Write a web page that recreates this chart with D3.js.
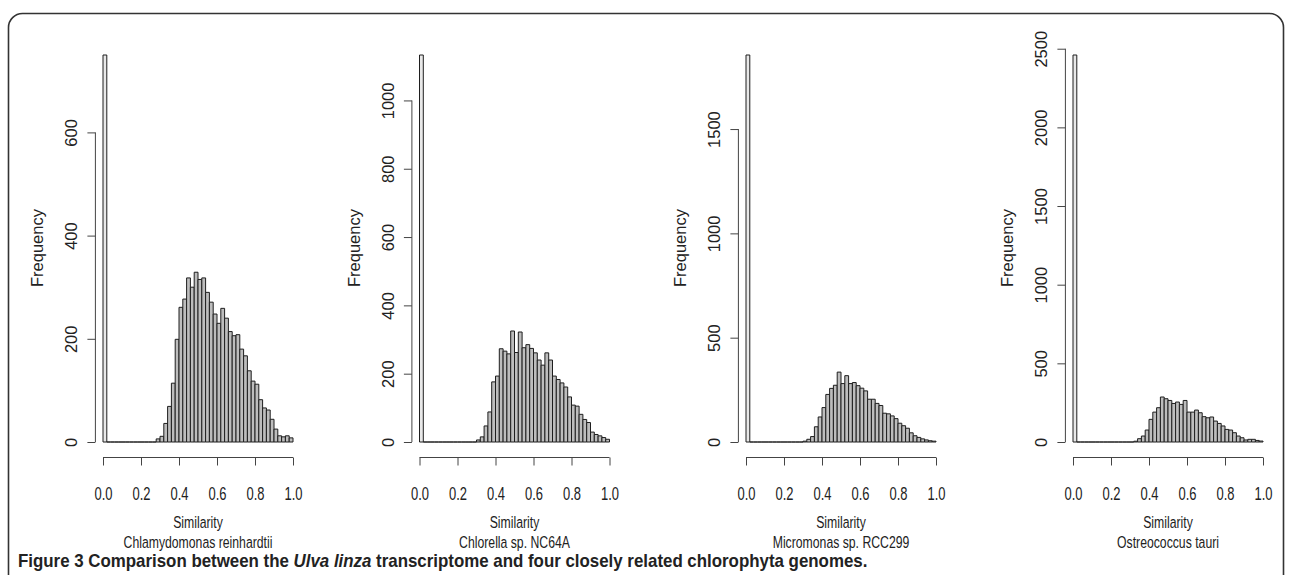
<!DOCTYPE html>
<html>
<head>
<meta charset="utf-8">
<script src="https://cdn.jsdelivr.net/npm/d3@7"></script>
<style>
  body { margin: 0; background: #fff; }
  svg { display: block; }
  text { font-family: "Liberation Sans", Arial, sans-serif; fill: #222; }
</style>
</head>
<body>
<svg id="fig" width="1290" height="575"></svg>
<script>
// histogram bins: 50 bins of width 0.02 over similarity 0..1
const binWidth = 0.02;
const xTicks = [0, 0.2, 0.4, 0.6, 0.8, 1.0];

const species = ['Chlamydomonas reinhardtii', 'Chlorella sp. NC64A', 'Micromonas sp. RCC299', 'Ostreococcus tauri'];

const chlamyCounts = [750, 0,0,0,0,0,0,0,0,0,0,0,0,0,
    6, 11, 36, 69, 114, 199, 261, 277, 318, 300, 329, 315, 318, 290, 271, 248, 230, 259,
    240, 214, 206, 208, 180, 167, 138, 118, 112, 82, 66, 62, 44, 25, 12, 10, 12, 8];
const chlorellaCounts = [1133, 0,0,0,0,0,0,0,0,0,0,0,0,0,0,
    6, 15, 47, 88, 176, 193, 273, 266, 258, 325, 262, 322, 276, 285, 274, 261, 240,
    225, 261, 240, 193, 183, 173, 161, 132, 108, 105, 81, 66, 57, 29, 22, 18, 13, 8];
const micromonasCounts = [1855, 0,0,0,0,0,0,0,0,0,0,0,0,0,0,
    4, 13, 26, 73, 120, 165, 228, 257, 272, 335, 280, 318, 280, 285, 270, 258, 245,
    205, 205, 185, 175, 138, 135, 125, 112, 90, 78, 66, 44, 30, 22, 15, 10, 6, 4];
const ostreoCounts = [2460, 0,0,0,0,0,0,0,0,0,0,0,0,0,0,0,
    5, 21, 38, 76, 144, 190, 218, 286, 275, 264, 245, 254, 239, 264, 190, 190, 203,
    186, 161, 154, 159, 133, 118, 102, 80, 76, 59, 38, 27, 13, 17, 17, 10, 6];

const chlamyTicks = [0, 200, 400, 600];
const chlorellaTicks = [0, 200, 400, 600, 800, 1000];
const micromonasTicks = [0, 500, 1000, 1500];
const ostreoTicks = [0, 500, 1000, 1500, 2000, 2500];

const panels = [
    {name: species[0], counts: chlamyCounts, ticks: chlamyTicks, left: 103},
    {name: species[1], counts: chlorellaCounts, ticks: chlorellaTicks, left: 419.5},
    {name: species[2], counts: micromonasCounts, ticks: micromonasTicks, left: 746},
    {name: species[3], counts: ostreoCounts, ticks: ostreoTicks, left: 1073}
];

const svg = d3.select('#fig');

// frame round the figure
svg.append('rect')
    .attr('x', 8.5).attr('y', 13.5)
    .attr('width', 1275).attr('height', 620)
    .attr('rx', 14)
    .attr('fill', 'none')
    .attr('stroke', '#333')
    .attr('stroke-width', 1.6);

const plotW = 190;
const baseY = 442;   // y of count 0
const topY = 55;     // y of the tallest bar
const xAxisY = baseY + 15.5;
const narrow = 'scale(0.72,1)';

panels.forEach(p => {
    let maxval = d3.max(p.counts);
    let x = d3.scaleLinear().domain([0, 1]).range([p.left, p.left + plotW]);
    let y = d3.scaleLinear().domain([0, maxval]).range([baseY, topY]);
    let yAxisX = p.left - 7.6;

    let g = svg.append('g');

    // bars (drawn as paths so empty bins still show their base line)
    g.selectAll('path.bar')
        .data(p.counts)
        .enter().append('path')
        .attr('class', 'bar')
        .attr('d', (d, i) => {
            let x0 = x(i * binWidth), x1 = x((i + 1) * binWidth);
            return 'M' + x0 + ',' + y(0) + 'V' + y(d) + 'H' + x1 + 'V' + y(0) + 'Z';
        })
        .attr('fill', (d, i) => i == 0 ? '#e8e8e8' : '#bdbdbd')
        .attr('stroke', '#1e1e1e')
        .attr('stroke-width', 1);

    // y axis
    let yaxis = d3.axisLeft(y).tickValues(p.ticks).tickSize(8).tickFormat(d3.format('d'));
    let ya = g.append('g').attr('transform', 'translate(' + yAxisX + ',0)').call(yaxis);
    ya.select('.domain').remove();
    ya.append('line')
        .attr('y1', y(p.ticks[0])).attr('y2', y(p.ticks[p.ticks.length - 1]))
        .attr('stroke', '#444');
    ya.selectAll('.tick line').attr('stroke', '#444');
    ya.selectAll('.tick text')
        .attr('transform', 'rotate(-90)')
        .attr('x', 0).attr('y', -18).attr('dy', 0)
        .attr('text-anchor', 'middle')
        .style('font-size', '16.5px')
        .style('font-family', '"Liberation Sans", Arial, sans-serif')
        .attr('fill', '#222');

    g.append('text')
        .attr('transform', 'translate(' + (yAxisX - 52) + ',248) rotate(-90)')
        .attr('text-anchor', 'middle')
        .style('font-size', '16.5px')
        .text('Frequency');

    // x axis
    let xaxis = d3.axisBottom(x).tickValues(xTicks).tickSize(8).tickFormat(d3.format('.1f'));
    let xa = g.append('g').attr('transform', 'translate(0,' + xAxisY + ')').call(xaxis);
    xa.select('.domain').remove();
    xa.append('line').attr('x1', x(0)).attr('x2', x(1)).attr('stroke', '#444');
    xa.selectAll('.tick line').attr('stroke', '#444');
    xa.selectAll('.tick text')
        .attr('y', 43).attr('dy', 0)
        .attr('transform', narrow)
        .style('font-size', '18px')
        .style('font-family', '"Liberation Sans", Arial, sans-serif')
        .attr('fill', '#222');

    let cx = x(0.5);
    g.append('text')
        .attr('transform', 'translate(' + cx + ',528) ' + narrow)
        .attr('text-anchor', 'middle')
        .style('font-size', '17px')
        .text('Similarity');
    g.append('text')
        .attr('transform', 'translate(' + cx + ',548) ' + narrow)
        .attr('text-anchor', 'middle')
        .style('font-size', '17px')
        .text(p.name);
});

// caption
let cap = svg.append('text')
    .attr('x', 0).attr('y', 0)
    .style('font-size', '18px')
    .style('font-weight', 'bold');
cap.append('tspan').text('Figure 3 Comparison between the ');
cap.append('tspan').style('font-style', 'italic').text('Ulva linza');
cap.append('tspan').text(' transcriptome and four closely related chlorophyta genomes.');
let capW = cap.node().getComputedTextLength();
cap.attr('transform', 'translate(18,567) scale(' + (850 / capW) + ',1)');
</script>
</body>
</html>
